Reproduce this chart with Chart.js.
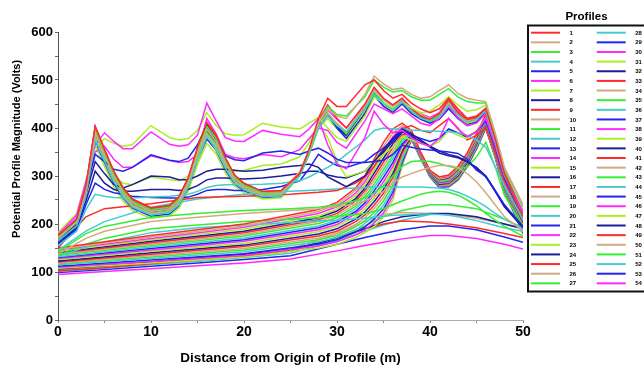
<!DOCTYPE html>
<html><head><meta charset="utf-8">
<script src="https://cdn.jsdelivr.net/npm/chart.js@4.4.1/dist/chart.umd.min.js"></script>
<style>html,body{margin:0;padding:0;background:#fff;overflow:hidden}#wrap{width:644px;height:369px;position:relative}</style>
</head><body><div id="wrap"><canvas id="c" width="644" height="369"></canvas></div>
<script>
// x grids (distance, m)
const XF = [0,2,3,4,5,6,7,8,10,12,13,14,15,16,17,18,19,20,22,24,26,27,28,29,30,31,33,34,35,36,37,38,39,40,41,42,43,44,45,46,47,48,50];
const XM = [0,3,5,10,15,20,25,28,30,32,33,34,35,36,37,38,39,40,41,42,43,44,45,46,47,48,50];
const XU = [0,10,20,28,30,32,33,34,35,36,37,38,39,40,41,42,43,44,45,46,47,48,50];
const XL = [0,5,10,15,20,25,30,33,35,37,40,42,45,48,50];

// profile values (Volts)
const p1 = [176,210,279,404,356,310,276,252,234,239,257,296,360,412,386,338,302,285,268,270,305,355,420,462,445,445,490,500,478,462,470,452,440,432,440,462,440,420,425,440,378,305,215];
const p2 = [170,203,269,390,343,299,266,244,226,231,249,286,347,397,372,327,294,278,262,264,310,352,412,440,425,420,470,508,492,480,483,470,462,465,478,490,472,462,458,455,390,318,240];
const p3 = [173,206,273,396,349,304,270,247,230,235,252,290,353,403,378,332,297,281,265,267,306,350,410,445,428,425,465,500,485,475,478,465,458,458,470,482,465,455,452,452,388,315,235];
const p4 = [165,196,259,376,331,288,256,235,219,224,240,276,335,381,358,316,285,271,257,259,300,345,400,425,405,392,440,470,450,438,455,435,420,415,422,448,428,412,418,435,372,302,216];
const p5 = [172,208,272,345,330,314,310,318,344,333,330,337,365,405,375,342,334,332,348,352,345,352,358,348,335,328,328,330,333,345,364,360,356,354,352,350,347,335,312,300,270,240,195];
const p6 = [178,218,288,365,390,372,357,357,392,366,362,365,385,452,415,380,373,372,395,387,382,398,420,365,325,315,380,435,408,390,395,380,368,362,378,420,398,382,392,420,365,300,225];
const p7 = [182,222,290,360,378,368,362,365,405,380,375,378,395,432,405,388,385,386,410,402,398,410,422,400,380,372,425,465,452,442,455,442,432,435,448,465,448,435,438,448,385,315,238];
const p8 = [165,200,262,330,305,282,275,282,300,298,292,292,300,310,314,314,312,310,312,318,322,325,318,298,288,278,300,330,355,378,398,388,375,362,352,345,340,330,318,300,270,238,195];
const p9 = [174,208,276,400,352,307,273,250,232,237,255,293,356,408,382,335,300,283,266,268,304,352,415,448,420,400,450,485,462,448,462,440,425,418,430,458,432,418,422,440,378,306,220];
const p10 = [166,198,262,380,334,291,259,238,221,226,243,279,338,386,362,319,288,273,258,260,303,348,405,430,410,392,445,480,458,445,460,440,428,420,428,452,430,414,420,438,376,304,218];
const p11 = [168,200,265,384,338,294,262,240,223,228,245,282,342,390,366,322,290,275,260,262,303,350,408,432,408,388,442,475,452,440,456,436,424,418,426,455,432,416,420,440,376,305,222];
const p12 = [155,185,230,262,258,255,254,254,256,258,260,262,268,276,280,282,282,282,283,285,290,298,308,318,330,345,375,395,400,398,398,396,395,394,393,392,390,385,375,360,320,280,210];
const p13 = [158,188,240,285,272,265,262,258,255,254,254,256,262,270,272,272,270,270,272,278,290,315,345,332,322,318,330,345,358,375,395,385,378,372,378,398,390,382,392,415,360,296,215];
const p14 = [175,212,280,350,362,335,318,318,342,332,328,330,345,420,388,345,338,336,345,340,355,378,400,395,370,358,415,450,440,430,440,425,410,405,420,445,422,405,410,430,370,302,226];
const p15 = [170,205,268,375,340,300,285,282,298,292,290,300,330,385,355,320,310,312,322,325,340,370,410,380,330,298,310,330,345,360,382,375,368,362,372,395,385,378,395,420,362,298,222];
const p16 = [160,192,248,310,285,272,268,268,272,272,270,272,280,292,296,296,295,294,296,300,305,310,310,302,298,296,310,330,350,372,392,382,372,360,348,342,338,330,315,298,268,236,192];
const p17 = [150,215,232,242,255,258,262,266,270,285,298,320,350,378,398,405,395,390,405,420,400,375,385,400,350,290,210];
const p18 = [138,170,185,205,214,222,228,232,236,242,248,258,268,285,298,305,312,318,322,322,318,305,288,265,240,215,185];
const p19 = [142,180,195,214,222,228,232,235,240,248,255,265,280,300,320,330,332,330,326,320,315,318,340,370,320,260,195];
const p20 = [145,185,205,235,252,262,268,271,273,275,276,277,277,277,277,277,277,276,275,272,266,258,248,236,222,210,190];
const p21 = [175,209,278,402,354,308,275,251,233,238,256,295,358,410,384,336,301,284,267,269,306,352,410,428,400,378,430,468,445,432,450,430,418,410,418,440,420,405,412,432,370,300,214];
const p22 = [172,205,272,394,347,302,269,246,228,234,251,289,351,401,376,330,296,280,264,266,304,350,408,438,418,400,448,482,460,446,462,442,430,422,432,460,436,420,424,442,380,308,224];
const p23 = [160,190,251,364,320,278,248,228,212,217,233,268,324,368,346,306,278,265,252,254,302,345,400,420,398,380,435,465,448,436,452,432,420,412,420,445,425,410,415,432,372,300,216];
const p24 = [170,202,268,388,342,297,265,242,225,230,247,285,346,394,370,325,292,277,262,264,307,354,412,430,402,382,432,470,448,436,455,435,420,412,420,442,422,408,414,435,372,302,215];
const p25 = [150,176,200,230,245,275,300,335,370,398,410,395,350,312,298,302,320,348,388,428,362,290,212];
const p26 = [148,173,196,226,240,270,294,328,362,390,405,394,349,311,297,301,318,346,386,426,361,289,210];
const p27 = [135,158,170,190,198,205,210,213,216,220,222,226,232,240,248,255,262,266,268,266,260,250,238,222,208,195,175];
const p28 = [132,152,162,182,192,198,203,206,208,211,212,214,216,218,219,220,221,221,220,218,215,211,207,202,197,192,185];
const p29 = [163,194,257,372,327,284,254,233,216,221,238,274,331,377,354,312,283,269,255,257,302,346,402,426,404,385,438,472,452,440,458,436,422,414,422,448,428,412,418,436,374,303,217];
const p30 = [146,170,193,222,236,264,288,320,354,382,401,393,348,311,296,299,317,345,385,425,359,288,208];
const p31 = [143,167,189,217,231,259,281,313,346,375,396,392,348,310,294,298,315,343,383,423,358,287,207];
const p32 = [141,164,185,213,227,253,275,306,337,367,391,391,347,309,293,297,314,342,381,422,357,285,205];
const p33 = [139,161,182,209,222,248,269,298,329,359,386,390,346,308,292,295,312,340,379,420,356,284,203];
const p34 = [137,158,178,205,218,242,263,291,321,351,382,389,345,308,291,294,311,339,378,419,354,283,201];
const p35 = [135,155,175,201,213,237,257,283,313,343,377,388,344,307,290,292,309,337,376,417,353,282,199];
const p36 = [132,152,171,196,208,232,250,276,305,336,372,387,344,306,288,291,307,335,374,415,352,281,198];
const p37 = [130,149,167,192,204,226,244,269,297,328,367,386,343,305,287,290,306,334,372,414,351,280,196];
const p38 = [128,146,164,188,199,221,238,261,288,320,363,384,342,305,286,288,304,332,371,412,349,278,194];
const p39 = [126,143,160,184,195,215,232,254,280,312,358,383,341,304,285,287,303,331,369,411,348,277,192];
const p40 = [123,140,156,179,190,210,225,247,272,305,353,382,341,303,283,286,301,329,367,409,347,276,191];
const p41 = [121,137,153,175,185,205,219,239,264,297,348,381,340,302,282,284,299,327,365,407,346,275,189];
const p42 = [119,134,149,171,181,199,213,232,256,289,344,380,339,302,281,283,298,326,364,406,344,274,187];
const p43 = [117,131,146,167,176,194,207,224,248,281,339,379,338,301,280,281,296,324,362,404,343,273,185];
const p44 = [115,128,142,163,172,188,201,217,239,273,334,378,337,300,279,280,295,323,360,403,342,271,183];
const p45 = [112,125,138,158,167,183,194,210,231,266,329,377,337,299,277,279,293,321,358,401,341,270,182];
const p46 = [110,122,135,154,163,177,188,202,223,258,325,376,336,299,276,277,292,320,357,400,339,269,180];
const p47 = [108,119,131,150,158,172,182,195,215,250,320,375,335,298,275,276,290,318,355,398,338,268,178];
const p48 = [106,113,121,129,137,147,170,190,205,215,222,222,215,200,190];
const p49 = [102,109,117,125,133,143,172,190,200,206,204,200,192,180,172];
const p50 = [104,111,119,128,137,148,180,205,220,224,222,220,212,200,192];
const p51 = [104,111,119,127,135,146,172,196,215,228,240,240,232,210,192];
const p52 = [101,108,115,122,130,139,165,185,198,208,220,221,214,200,190];
const p53 = [99,105,112,119,126,134,158,172,180,188,196,196,188,173,162];
const p54 = [95,101,107,113,119,127,144,155,162,169,176,176,170,158,148];

const SERIES = [
  [XF,p1],[XF,p2],[XF,p3],[XF,p4],[XF,p5],[XF,p6],[XF,p7],[XF,p8],[XF,p9],[XF,p10],
  [XF,p11],[XF,p12],[XF,p13],[XF,p14],[XF,p15],[XF,p16],[XM,p17],[XM,p18],[XM,p19],[XM,p20],
  [XF,p21],[XF,p22],[XF,p23],[XF,p24],[XU,p25],[XU,p26],[XM,p27],[XM,p28],[XF,p29],[XU,p30],
  [XU,p31],[XU,p32],[XU,p33],[XU,p34],[XU,p35],[XU,p36],[XU,p37],[XU,p38],[XU,p39],[XU,p40],
  [XU,p41],[XU,p42],[XU,p43],[XU,p44],[XU,p45],[XU,p46],[XU,p47],[XL,p48],[XL,p49],[XL,p50],
  [XL,p51],[XL,p52],[XL,p53],[XL,p54]
];
const LABELS = SERIES.map((s,i)=>String(i+1));
const PALETTE = ['#FF2A2A','#D2AA82','#33EE33','#44CCCC','#2424EE','#FF2AFF','#AAEE22','#1C1C9C'];
const FONT = '"Liberation Sans", Arial, Helvetica, sans-serif';

const datasets = SERIES.map((s,i)=>({
  label: LABELS[i],
  data: s[0].map((x,j)=>({x:x, y:s[1][j]})),
  borderColor: PALETTE[i%8],
  backgroundColor: PALETTE[i%8],
  borderWidth: 1.5,
  pointRadius: 0,
  tension: 0,
  fill: false
}));

const legendPlugin = {
  id: 'profilesLegend',
  afterDraw(chart){
    const ctx = chart.ctx;
    ctx.save();
    ctx.fillStyle = '#000';
    ctx.font = 'bold 11.5px ' + FONT;
    ctx.textAlign = 'center';
    ctx.textBaseline = 'alphabetic';
    ctx.fillText('Profiles', 586.5, 20);
    ctx.strokeStyle = '#111';
    ctx.lineWidth = 2;
    ctx.strokeRect(528, 25.5, 125, 266);
    chart.data.datasets.forEach((ds,i)=>{
      const col = i < 27 ? 0 : 1;
      const row = i % 27;
      const y = 32.7 + row*9.64;
      const x0 = col ? 596.7 : 531;
      ctx.strokeStyle = ds.borderColor;
      ctx.lineWidth = 2;
      ctx.beginPath(); ctx.moveTo(x0, y); ctx.lineTo(x0+29, y); ctx.stroke();
      ctx.fillStyle = '#000';
      ctx.font = 'bold 6px ' + FONT;
      ctx.textAlign = 'left';
      ctx.textBaseline = 'middle';
      ctx.fillText(ds.label, x0 + 38.5, y + 0.5);
    });
    ctx.translate(17, 149);
    ctx.rotate(-Math.PI/2);
    ctx.font = 'bold 11px ' + FONT;
    ctx.textAlign = 'center';
    ctx.textBaseline = 'middle';
    ctx.fillStyle = '#000';
    ctx.fillText('Potential Profile Magnitude (Volts)', 0, 0);
    ctx.restore();
  }
};

new Chart(document.getElementById('c'), {
  type: 'line',
  data: { datasets },
  options: {
    responsive: false,
    animation: false,
    devicePixelRatio: 1,
    layout: { padding: { left: 0, top: 32, right: 121, bottom: 0 } },
    plugins: { legend: { display: false }, tooltip: { enabled: false } },
    scales: {
      x: {
        type: 'linear', min: 0, max: 50,
        afterFit(s){ s.height = 49; },
        ticks: { stepSize: 5, autoSkip: false, maxRotation: 0, padding: 1, color: '#000',
          font: { family: FONT, size: 14, weight: 'bold' },
          callback: v => (v % 10 === 0 ? String(v) : '') },
        grid: { display: true, drawOnChartArea: false, drawTicks: true, tickLength: 3, color: '#888' },
        border: { display: true, color: '#aaa', width: 1 },
        title: { display: true, text: 'Distance from Origin of Profile (m)', color: '#000',
          font: { family: FONT, size: 13.5, weight: 'bold' }, padding: { top: 0, bottom: 3 } }
      },
      y: {
        type: 'linear', min: 0, max: 600,
        afterFit(s){ s.width = 58; },
        ticks: { stepSize: 50, autoSkip: false, padding: 2, color: '#000',
          font: { family: FONT, size: 13, weight: 'bold' },
          callback: v => (v % 100 === 0 ? String(v) : '') },
        grid: { display: true, drawOnChartArea: false, drawTicks: true, tickLength: 3, color: '#666' },
        border: { display: true, color: '#555', width: 1 }
      }
    }
  },
  plugins: [legendPlugin]
});
</script>
</body></html>
